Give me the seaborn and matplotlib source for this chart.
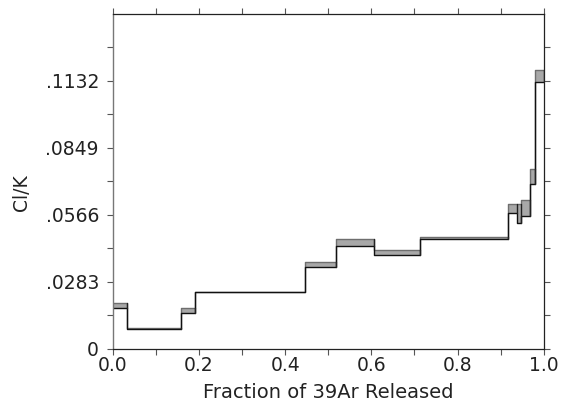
import numpy as np
import pandas as pd
import matplotlib
matplotlib.use("Agg")
import matplotlib.pyplot as plt
import seaborn as sns

# Cumulative 39Ar fraction at the right edge of each heating step
step_edges = [0.0, 0.032, 0.159, 0.191, 0.447, 0.517, 0.606, 0.713, 0.916,
              0.937, 0.947, 0.969, 0.980, 1.0]
# Cl/K ratio, lower and upper error bounds for each step
clk_low = [0.0173, 0.0083, 0.0153, 0.0238, 0.0347, 0.0435, 0.0397, 0.0464,
           0.0573, 0.0533, 0.0563, 0.0698, 0.1127]
clk_high = [0.0192, 0.0087, 0.0173, 0.0242, 0.0368, 0.0465, 0.0418, 0.0474,
            0.0611, 0.0611, 0.0630, 0.0758, 0.1176]
ytick_vals = [0.0, 0.0283, 0.0566, 0.0849, 0.1132]
ytick_text = ["0", ".0283", ".0566", ".0849", ".1132"]
xtick_vals = [0.0, 0.2, 0.4, 0.6, 0.8, 1.0]

sns.set_style("ticks")
plt.rcParams["font.family"] = ["DejaVu Sans"]

fig = plt.figure(figsize=(5.67, 4.08), dpi=100)
ax = fig.add_axes([0.199, 0.145, 0.760, 0.821])

# Step series: repeat last value so steps-post closes at 1.0
lo_ext = clk_low + [clk_low[-1]]
hi_ext = clk_high + [clk_high[-1]]
df = pd.DataFrame({"frac": step_edges, "low": lo_ext, "high": hi_ext})

for i in range(len(clk_low)):
    ax.fill_between([step_edges[i], step_edges[i + 1]], clk_low[i], clk_high[i],
                    color="#a8a8a8", linewidth=0)

sns.lineplot(data=df, x="frac", y="high", ax=ax, drawstyle="steps-post",
             color="#6e6e6e", linewidth=1.0, estimator=None, sort=False)
sns.lineplot(data=df, x="frac", y="low", ax=ax, drawstyle="steps-post",
             color="#111111", linewidth=1.0, estimator=None, sort=False)
# right-hand edges of the error boxes
for i in range(len(clk_low)):
    ax.plot([step_edges[i + 1]] * 2, [clk_low[i], clk_high[i]],
            color="#222222", linewidth=1.0)

ax.set_xlim(0, 1.0)
ax.set_ylim(0, 0.1415)
ax.set_xticks(xtick_vals)
ax.set_xticklabels([f"{v:.1f}" for v in xtick_vals])
ax.set_xticks(np.arange(0.1, 1.0, 0.2), minor=True)
ax.set_yticks(ytick_vals)
ax.set_yticklabels(ytick_text)
ax.set_yticks([0.01415, 0.04245, 0.07075, 0.09905, 0.12735], minor=True)

ax.tick_params(axis="both", which="both", direction="out", top=True, right=True,
               labeltop=False, labelright=False, colors="#555555",
               labelcolor="#222222", labelsize=13.5)
ax.tick_params(which="both", length=4, width=0.8)
ax.tick_params(axis="x", which="major", pad=1)
ax.tick_params(axis="y", which="major", pad=6)

for side in ["top", "right", "bottom"]:
    ax.spines[side].set_visible(True)
    ax.spines[side].set_color("#222222")
    ax.spines[side].set_linewidth(0.9)
ax.spines["left"].set_color("#777777")
ax.spines["left"].set_linewidth(1.0)

ax.set_xlabel("Fraction of 39Ar Released", fontsize=14, color="#222222", labelpad=6)
ax.set_ylabel("Cl/K", fontsize=13.5, color="#222222")
ax.yaxis.set_label_coords(-0.19, 0.466)

fig.savefig("out.png", dpi=100)
